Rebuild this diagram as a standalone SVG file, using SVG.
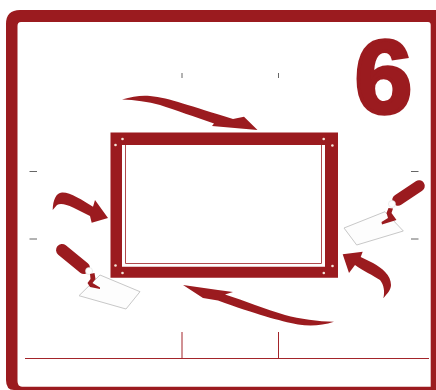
<svg xmlns="http://www.w3.org/2000/svg" width="436" height="390" viewBox="0 0 436 390">
<style>
.r{fill:#9b1b1f}
.l{fill:none;stroke:#a3242a;stroke-width:1}
.i{fill:none;stroke:#b04a4e;stroke-width:1}
.t{fill:none;stroke:#666;stroke-width:1}
.d{fill:#f4e6d8}
.b{fill:#fdfdfd;stroke:#c8c8c8;stroke-width:1}
</style>
<rect width="436" height="390" fill="#fff"/>
<path class="r" fill-rule="evenodd" d="M20 10H436V390H14Q6 390 6 380V24Q6 10 20 10ZM21 22Q17.500 22 17.500 26V381Q17.500 386.700 22 386.700H430.700V25Q430.700 22 428 22Z"/>
<text x="354.500" y="112.500" font-family="Liberation Sans, Arial, sans-serif" font-weight="700" font-size="104" class="r" stroke="#9b1b1f" stroke-width="3.600">6</text>
<g id="frame">
<path class="r" fill-rule="evenodd" d="M110.500 132.500H338V277.700H110.500ZM122 145V266.700H325V145Z"/>
<path class="i" d="M125.500 145V263.500H321.500V145"/>
<circle class="d" cx="122.500" cy="139" r="1.300"/><circle class="d" cx="115.500" cy="145" r="1.300"/>
<circle class="d" cx="323.700" cy="139" r="1.300"/><circle class="d" cx="332.400" cy="145.500" r="1.300"/>
<circle class="d" cx="115.500" cy="265.500" r="1.300"/><circle class="d" cx="122.500" cy="273" r="1.300"/>
<circle class="d" cx="323.800" cy="273" r="1.300"/><circle class="d" cx="332.500" cy="266" r="1.300"/>
</g>
<g id="marks">
<path class="t" d="M182 73V78M278.500 73V78M29.500 171.500H37M29.500 239H37M411 171.500H418.500M411 239H418.500"/>
<path class="l" d="M25 358.500H429M182 332V358.500M278.500 332V358.500"/>
</g>
<g id="arrows">
<path class="r" d="M122 99.500C132 96.500 142 95 150 96C170 98 190 106 233 119L244 116.700L257.500 130L212 126L214 123.500C195 117 175 110 160 105C148 101.500 135 100 122 99.500Z"/>
<path class="r" d="M334 321.700C322 325.500 311 326.500 298 324.500C280 321 255 314 218 300.500L203 298L183 285L218 290L233 292L225 294.500C245 301 265 309 285 315C300 319 318 321.500 334 321.700Z"/>
<path class="r" d="M52.700 210C53 200 56 193 62 192.500C70 192 82 200 93 206.700L95 200L108 218L91.700 222.700L90 216L73 207.500C66 204 60 203 57 205Z"/>
<path class="r" d="M342.700 254.300L362.700 251.700L360.700 257L373 263C382 268 391 275 391 285C391 290 387 294 383.300 298.300C385 292 384 285 380 280C374 276 362 270 355 265L349 273Z"/>
</g>
<g id="trowel-left">
<path class="b" d="M100 275L140 291.700L126 309L79 295.700Z"/>
<path d="M62 250L84 268" fill="none" stroke="#9b1b1f" stroke-width="12" stroke-linecap="round"/>
<circle cx="89" cy="271" r="3.500" fill="#fff" stroke="#ddd" stroke-width=".6"/>
<path class="r" d="M90 274L94.500 273L95.500 279L92.500 283L100 287.500L100 289L90 287L87.500 283L90.500 279Z"/>
</g>
<g id="trowel-right">
<path class="b" d="M385 211.700L403.300 231L356.700 245L344 228Z"/>
<path d="M419 186L398 200" fill="none" stroke="#9b1b1f" stroke-width="11.500" stroke-linecap="round"/>
<circle cx="392" cy="204" r="3.500" fill="#fff" stroke="#ddd" stroke-width=".6"/>
<path class="r" d="M388.500 208L393 208.500L391.500 213L396.500 220L382 224.500L381.500 222L388 218L386.500 213Z"/>
</g>
</svg>
